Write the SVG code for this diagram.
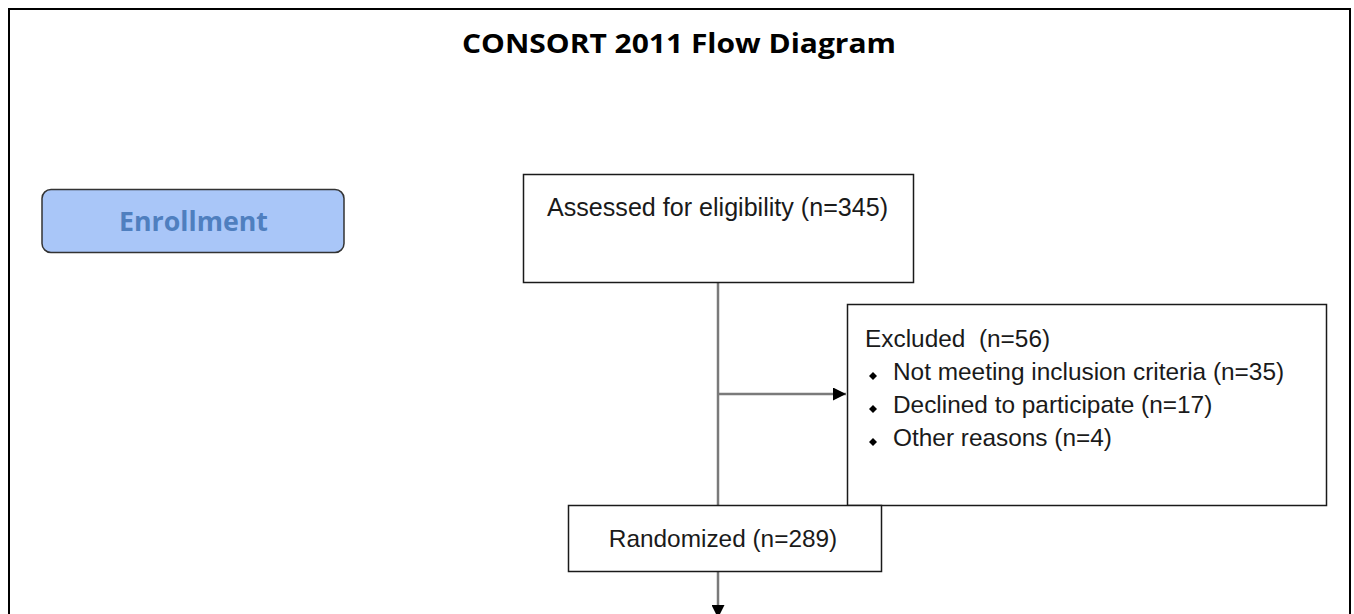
<svg xmlns="http://www.w3.org/2000/svg" width="1354" height="614" viewBox="0 0 1354 614">
<defs>
<style>
.box{fill:#ffffff;stroke:#1a1a1a;stroke-width:1.5}
.t{font-family:"Liberation Sans",Arial,sans-serif;font-size:24.4px;fill:#1a1a1a}
.ln{stroke:#7a7a7a;stroke-width:2.5;fill:none}
</style>
<marker id="arr" viewBox="0 0 10 10" refX="10" refY="5" markerWidth="5.2" markerHeight="5.2" orient="auto" markerUnits="strokeWidth">
<path d="M0,0 L10,5 L0,10 z" fill="#000"/>
</marker>
</defs>
<rect x="0" y="0" width="1354" height="614" fill="#ffffff"/>
<rect x="9" y="9" width="1341" height="620" fill="none" stroke="#000" stroke-width="2"/>
<text x="462" y="53" textLength="434" lengthAdjust="spacingAndGlyphs" font-family="'Open Sans',Lato,sans-serif" font-weight="bold" font-size="26" fill="#000">CONSORT 2011 Flow Diagram</text>
<g id="enrollment">
<rect x="42" y="189.5" width="302" height="63" rx="9" fill="#a9c6f8" stroke="#333" stroke-width="1.5"/>
<text x="193.5" y="231" text-anchor="middle" textLength="149" lengthAdjust="spacingAndGlyphs" font-family="'Open Sans',Lato,sans-serif" font-weight="bold" font-size="26" fill="#4f7fbf">Enrollment</text>
</g>
<g id="connectors">
<line class="ln" x1="718" y1="282" x2="718" y2="505"/>
<line class="ln" x1="718" y1="394" x2="846" y2="394" marker-end="url(#arr)"/>
<line class="ln" x1="718" y1="572" x2="718" y2="618" marker-end="url(#arr)"/>
</g>
<g id="assessed">
<rect class="box" x="523.5" y="174.5" width="390" height="108"/>
<text class="t" x="547" y="216" style="font-size:25.1px">Assessed for eligibility (n=345)</text>
</g>
<g id="excluded">
<rect class="box" x="847.5" y="304.5" width="479" height="201"/>
<text class="t" x="865" y="347" xml:space="preserve">Excluded  (n=56)</text>
<path d="M869,376 l4,-4 l4,4 l-4,4 z" fill="#000"/>
<text class="t" x="893" y="380">Not meeting inclusion criteria (n=35)</text>
<path d="M869,409 l4,-4 l4,4 l-4,4 z" fill="#000"/>
<text class="t" x="893" y="413">Declined to participate (n=17)</text>
<path d="M869,442 l4,-4 l4,4 l-4,4 z" fill="#000"/>
<text class="t" x="893" y="446">Other reasons (n=4)</text>
</g>
<g id="randomized">
<rect class="box" x="568.5" y="505.5" width="313" height="66"/>
<text class="t" x="723" y="547" text-anchor="middle">Randomized (n=289)</text>
</g>
</svg>
